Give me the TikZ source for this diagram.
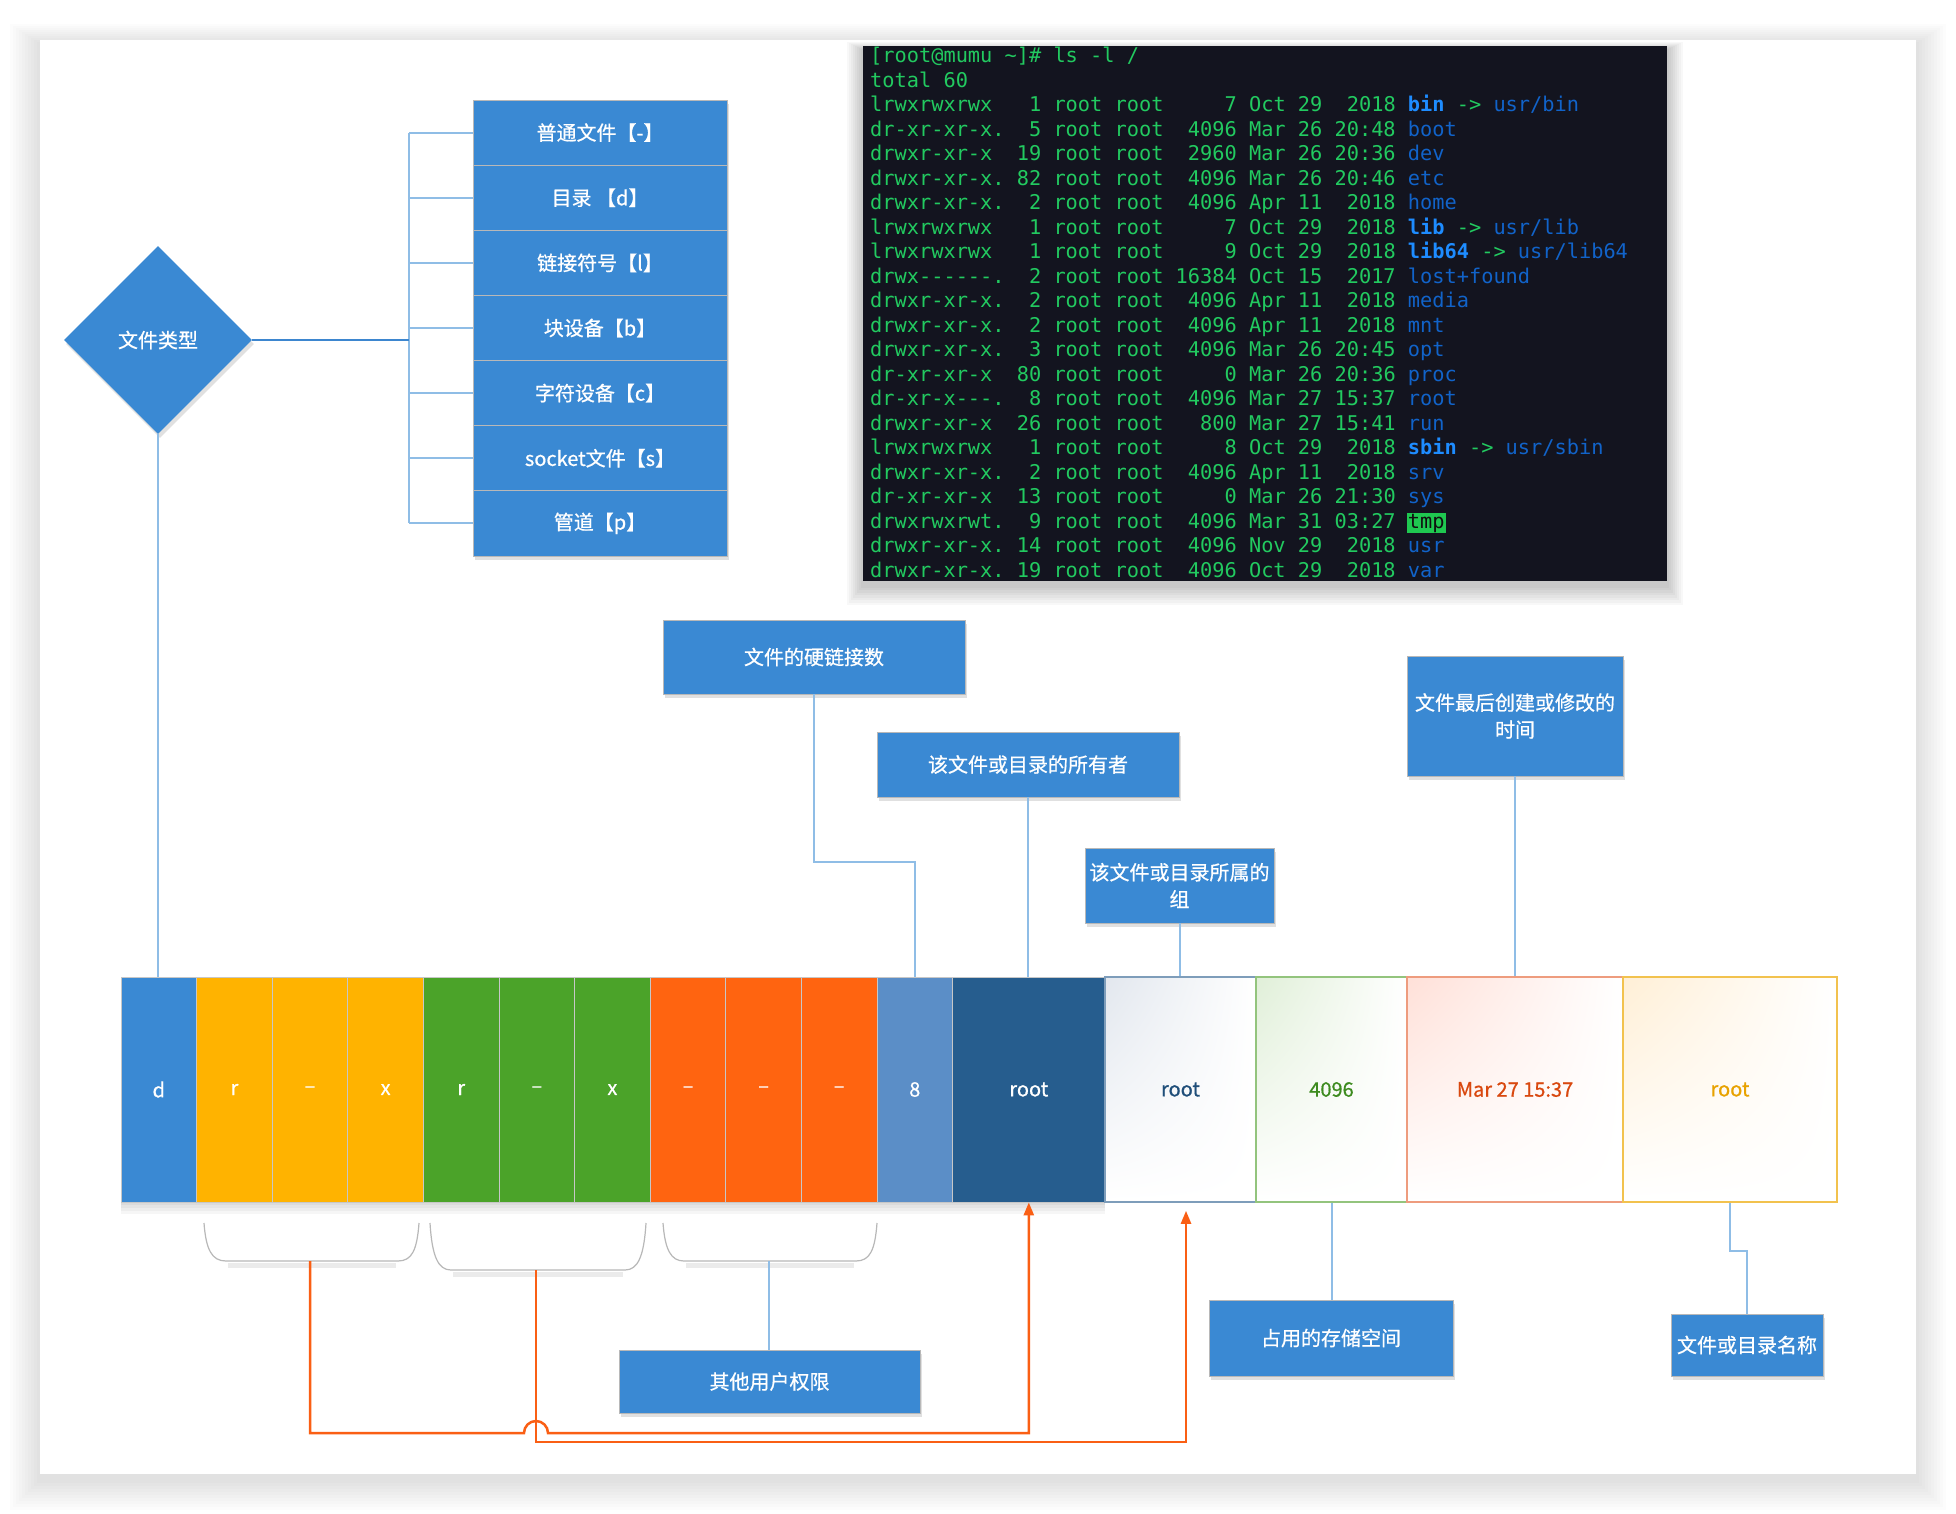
\documentclass[tikz,border=0pt]{standalone}
\usepackage{fontspec}
\setmainfont{Noto Sans CJK SC}
\setmonofont{DejaVu Sans Mono}
\newfontfamily\lblfont[FakeBold=0.7]{Noto Sans CJK SC}
\usetikzlibrary{shapes.geometric,shadows,shadings,arrows.meta,calc}
\definecolor{boxblue}{HTML}{3A89D3}
\definecolor{lineblue}{HTML}{8FBDE6}
\definecolor{darkline}{HTML}{3D86CF}
\definecolor{cyellow}{HTML}{FFB300}
\definecolor{cgreen}{HTML}{4BA329}
\definecolor{corange}{HTML}{FF6410}
\definecolor{ceight}{HTML}{5B8EC7}
\definecolor{cdark}{HTML}{265D8E}
\definecolor{bdA}{HTML}{7E9DBA}\definecolor{tnA}{HTML}{E2E7EE}\definecolor{txA}{HTML}{1F4E79}
\definecolor{bdB}{HTML}{93C47D}\definecolor{tnB}{HTML}{E0EFD8}\definecolor{txB}{HTML}{3D8B1F}
\definecolor{bdC}{HTML}{EE9C7E}\definecolor{tnC}{HTML}{FFE0D8}\definecolor{txC}{HTML}{D9480F}
\definecolor{bdD}{HTML}{F2C24E}\definecolor{tnD}{HTML}{FFEFD6}\definecolor{txD}{HTML}{E8A200}
\definecolor{orline}{HTML}{FA5F14}
\definecolor{termbg}{HTML}{13141F}
\definecolor{termgreen}{HTML}{22CA60}
\definecolor{dirblue}{HTML}{1163C9}
\definecolor{lnkblue}{HTML}{1E8CFF}
\definecolor{tmpgreen}{HTML}{1FC850}
\definecolor{tmptext}{HTML}{101010}
\newcommand\dirn[1]{\textcolor{dirblue}{#1}}
\newcommand\lnk[1]{\textcolor{lnkblue}{\bfseries #1}}
\newcommand\tmpbox[1]{{\setlength\fboxsep{1pt}\hspace{-1pt}\colorbox{tmpgreen}{\textcolor{tmptext}{#1}}}}
\tikzset{
  bluebox/.style={draw=black!28, line width=0.8pt, fill=boxblue, text=white,
    font=\lblfont\fontsize{20}{27}\selectfont, inner sep=0pt, align=center,
    drop shadow={shadow xshift=2pt, shadow yshift=-4pt, opacity=0.12, fill=black}},
  cellbase/.style={minimum height=225pt, inner sep=0pt, font=\lblfont\fontsize{20}{24}\selectfont},
  smallcell/.style={cellbase, draw=black!22, line width=0.8pt, text=white, minimum width=75.6pt},
  gradcell/.style={cellbase, line width=1.6pt, shade, shading=bilinear interpolation,
    upper right=white, lower left=white, lower right=white},
  lb/.style={draw=lineblue, line width=2pt},
  db/.style={draw=darkline, line width=2.5pt},
  oline/.style={draw=orline, line width=2.5pt},
  brk/.style={draw=black!28, line width=1.2pt},
  bsh/.style={draw=black!8, line width=5pt},
  term/.style={anchor=base west, inner sep=0pt, text=termgreen, font=\ttfamily\fontsize{20.3}{24}\selectfont},
  tip/.style={-{Triangle[length=13pt,width=10pt]}}
}
\begin{document}
\begin{tikzpicture}[x=1pt,y=-1pt]
\useasboundingbox (0,0) rectangle (1956,1514);
\fill[white] (0,0) rectangle (1956,1514);
% card shadow
\foreach \k in {1,...,10} {
  \fill[black, opacity=0.011] (40-3*\k,44-2*\k) rectangle (1916+3*\k,1480+3*\k);
}
\fill[white] (40,40) rectangle (1916,1474);

% terminal
\foreach \k in {1,...,8} {
  \fill[black, opacity=0.028] (863-2*\k,50-1*\k) rectangle (1667+2*\k,585+2.5*\k);
}
\node[fill=termbg, minimum width=804pt, minimum height=535pt, inner sep=0pt] (term) at (1265,313.5) {};
\node[term] (t1) at (870,62.7) {[root@mumu~\textasciitilde]\#~ls~-l~/};
\node[term] (t2) at (870,87.2) {total~60};
\node[term] (t3) at (870,111.7) {lrwxrwxrwx~~~1~root~root~~~~~7~Oct~29~~2018~\lnk{bin}~->~\dirn{usr/bin}};
\node[term] (t4) at (870,136.2) {dr-xr-xr-x.~~5~root~root~~4096~Mar~26~20:48~\dirn{boot}};
\node[term] (t5) at (870,160.7) {drwxr-xr-x~~19~root~root~~2960~Mar~26~20:36~\dirn{dev}};
\node[term] (t6) at (870,185.2) {drwxr-xr-x.~82~root~root~~4096~Mar~26~20:46~\dirn{etc}};
\node[term] (t7) at (870,209.7) {drwxr-xr-x.~~2~root~root~~4096~Apr~11~~2018~\dirn{home}};
\node[term] (t8) at (870,234.2) {lrwxrwxrwx~~~1~root~root~~~~~7~Oct~29~~2018~\lnk{lib}~->~\dirn{usr/lib}};
\node[term] (t9) at (870,258.7) {lrwxrwxrwx~~~1~root~root~~~~~9~Oct~29~~2018~\lnk{lib64}~->~\dirn{usr/lib64}};
\node[term] (t10) at (870,283.2) {drwx------.~~2~root~root~16384~Oct~15~~2017~\dirn{lost+found}};
\node[term] (t11) at (870,307.7) {drwxr-xr-x.~~2~root~root~~4096~Apr~11~~2018~\dirn{media}};
\node[term] (t12) at (870,332.2) {drwxr-xr-x.~~2~root~root~~4096~Apr~11~~2018~\dirn{mnt}};
\node[term] (t13) at (870,356.7) {drwxr-xr-x.~~3~root~root~~4096~Mar~26~20:45~\dirn{opt}};
\node[term] (t14) at (870,381.2) {dr-xr-xr-x~~80~root~root~~~~~0~Mar~26~20:36~\dirn{proc}};
\node[term] (t15) at (870,405.7) {dr-xr-x---.~~8~root~root~~4096~Mar~27~15:37~\dirn{root}};
\node[term] (t16) at (870,430.2) {drwxr-xr-x~~26~root~root~~~800~Mar~27~15:41~\dirn{run}};
\node[term] (t17) at (870,454.7) {lrwxrwxrwx~~~1~root~root~~~~~8~Oct~29~~2018~\lnk{sbin}~->~\dirn{usr/sbin}};
\node[term] (t18) at (870,479.2) {drwxr-xr-x.~~2~root~root~~4096~Apr~11~~2018~\dirn{srv}};
\node[term] (t19) at (870,503.7) {dr-xr-xr-x~~13~root~root~~~~~0~Mar~26~21:30~\dirn{sys}};
\node[term] (t20) at (870,528.2) {drwxrwxrwt.~~9~root~root~~4096~Mar~31~03:27~\tmpbox{tmp}};
\node[term] (t21) at (870,552.7) {drwxr-xr-x.~14~root~root~~4096~Nov~29~~2018~\dirn{usr}};
\node[term] (t22) at (870,577.2) {drwxr-xr-x.~19~root~root~~4096~Oct~29~~2018~\dirn{var}};

% file type diamond and list
\node[diamond, fill=boxblue, minimum width=188pt, minimum height=188pt, inner sep=0pt,
  text=white, font=\lblfont\fontsize{20}{24}\selectfont,
  drop shadow={shadow xshift=2pt, shadow yshift=-4pt, opacity=0.12, fill=black}] (dia) at (158,340) {文件类型};
\node[bluebox, minimum width=254pt, minimum height=65.14pt] (l1) at (600,132.6) {普通文件【-】};
\node[bluebox, minimum width=254pt, minimum height=65.14pt] (l2) at (600,197.7) {目录 【d】};
\node[bluebox, minimum width=254pt, minimum height=65.14pt] (l3) at (600,262.9) {链接符号【l】};
\node[bluebox, minimum width=254pt, minimum height=65.14pt] (l4) at (600,328.0) {块设备【b】};
\node[bluebox, minimum width=254pt, minimum height=65.14pt] (l5) at (600,393.1) {字符设备【c】};
\node[bluebox, minimum width=254pt, minimum height=65.14pt] (l6) at (600,458.3) {socket文件【s】};
\node[bluebox, minimum width=254pt, minimum height=65.14pt] (l7) at (600,523.4) {管道【p】};
\coordinate (jn) at (409,340);
\foreach \i in {1,...,7} { \draw[lb] (l\i.west) -- (l\i.west -| jn); }
\draw[lb] (l1.west -| jn) -- (l7.west -| jn);
\draw[db] (dia.east) -- (jn);

% bar shadow
\foreach \k in {1,...,4} { \fill[black, opacity=0.035] (121,1202) rectangle (1105,1202+3*\k); }

% bar cells
\node[smallcell, fill=boxblue] (c1) at (158.8,1089.5) {d};
\node[smallcell, fill=cyellow] (c2) at (234.4,1089.5) {r};
\node[smallcell, fill=cyellow] (c3) at (310.0,1089.5) {–};
\node[smallcell, fill=cyellow] (c4) at (385.6,1089.5) {x};
\node[smallcell, fill=cgreen] (c5) at (461.2,1089.5) {r};
\node[smallcell, fill=cgreen] (c6) at (536.8,1089.5) {–};
\node[smallcell, fill=cgreen] (c7) at (612.4,1089.5) {x};
\node[smallcell, fill=corange] (c8) at (688.0,1089.5) {–};
\node[smallcell, fill=corange] (c9) at (763.6,1089.5) {–};
\node[smallcell, fill=corange] (c10) at (839.2,1089.5) {–};
\node[smallcell, fill=ceight] (c11) at (914.8,1089.5) {8};
\node[smallcell, fill=cdark, minimum width=152.4pt] (c12) at (1028.8,1089.5) {root};
\node[gradcell, draw=bdA, upper left=tnA, text=txA, minimum width=151pt] (c13) at (1180.5,1089.5) {root};
\node[gradcell, draw=bdB, upper left=tnB, text=txB, minimum width=151pt] (c14) at (1331.5,1089.5) {4096};
\node[gradcell, draw=bdC, upper left=tnC, text=txC, minimum width=216pt] (c15) at (1515,1089.5) {Mar 27 15:37};
\node[gradcell, draw=bdD, upper left=tnD, text=txD, minimum width=214pt] (c16) at (1730,1089.5) {root};

\draw[lb] (dia.south) -- (dia.south |- c1.north);

% top labels
\node[bluebox, minimum width=302pt, minimum height=74pt] (hl) at (814,657) {文件的硬链接数};
\node[bluebox, minimum width=302pt, minimum height=65pt] (ow) at (1028,764.5) {该文件或目录的所有者};
\node[bluebox, minimum width=189pt, minimum height=75pt] (gr) at (1179.5,885.5) {该文件或目录所属的\\组};
\node[bluebox, minimum width=216pt, minimum height=120pt] (tm) at (1515,716) {文件最后创建或修改的\\时间};
\draw[lb] (hl.south) |- ($(c11.north)+(0,-115)$) -- (c11.north);
\draw[lb] (ow.south) -- (ow.south |- c12.north);
\draw[lb] (gr.south) -- (gr.south |- c13.north);
\draw[lb] (tm.south) -- (tm.south |- c15.north);

% bottom labels
\node[bluebox, minimum width=244pt, minimum height=76pt] (st) at (1331,1338) {占用的存储空间};
\node[bluebox, minimum width=152pt, minimum height=62pt] (nm) at (1747,1345) {文件或目录名称};
\node[bluebox, minimum width=301pt, minimum height=63pt] (ot) at (769.5,1381.5) {其他用户权限};
\draw[lb] (c14.south) -- (c14.south |- st.north);
\draw[lb] (c16.south) -- ++(0,48) -| (nm.north);

% brackets
\draw[bsh] (228,1265) -- (396,1265);
\draw[bsh] (453,1274) -- (623,1274);
\draw[bsh] (686,1265) -- (854,1265);
\draw[brk] (204,1223) .. controls (206,1250) and (212,1261) .. (226,1261) -- (398,1261) .. controls (412,1261) and (417,1250) .. (419,1223);
\draw[brk] (430,1223) .. controls (432,1256) and (438,1270) .. (451,1270) -- (625,1270) .. controls (638,1270) and (644,1256) .. (646,1223);
\draw[brk] (663,1223) .. controls (665,1250) and (671,1261) .. (684,1261) -- (856,1261) .. controls (870,1261) and (875,1250) .. (877,1223);
\coordinate (b1b) at (310,1261);
\coordinate (b2b) at (536,1270);
\coordinate (b3b) at (769,1261);
\draw[lb] (b3b) -- (b3b |- ot.north);

% orange connectors
\coordinate (a2) at ($(c13.south)+(5.5,8)$);
\draw[oline, tip] (b1b) |- (524,1433) arc[start angle=180, end angle=0, radius=12pt] -| (c12.south);
\draw[oline, tip] (b2b) -- ++(0,172) -| (a2);
\end{tikzpicture}
\end{document}
